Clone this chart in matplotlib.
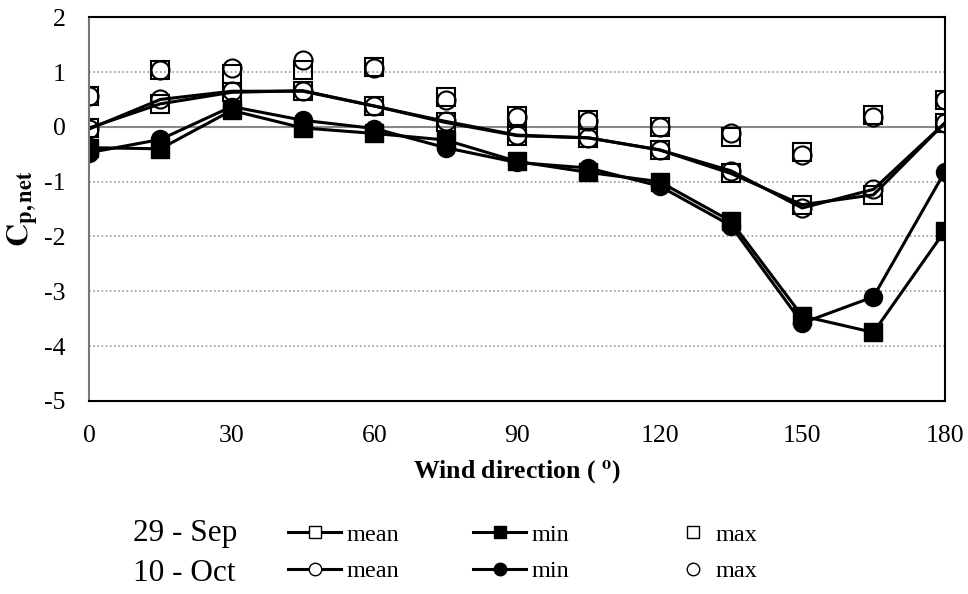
import matplotlib
matplotlib.use("Agg")
import matplotlib.pyplot as plt
from matplotlib.lines import Line2D

plt.rcParams['font.family'] = ['Liberation Serif', 'DejaVu Serif']
plt.rcParams['mathtext.fontset'] = 'stix'
plt.rcParams['axes.unicode_minus'] = False

# Wind direction (degrees)
direction = [0, 15, 30, 45, 60, 75, 90, 105, 120, 135, 150, 165, 180]

# 29 - Sep
sep_mean = [-0.02, 0.42, 0.63, 0.66, 0.38, 0.08, -0.16, -0.2, -0.42, -0.85, -1.42, -1.24, 0.07]
sep_min = [-0.38, -0.4, 0.3, -0.02, -0.12, -0.24, -0.63, -0.83, -1.0, -1.72, -3.45, -3.75, -1.9]
sep_max = [0.57, 1.03, 0.96, 1.04, 1.09, 0.55, 0.19, 0.12, 0.0, -0.18, -0.45, 0.22, 0.49]

# 10 - Oct
oct_mean = [-0.04, 0.5, 0.65, 0.65, 0.38, 0.1, -0.15, -0.2, -0.42, -0.8, -1.48, -1.14, 0.07]
oct_min = [-0.47, -0.23, 0.37, 0.12, -0.03, -0.38, -0.65, -0.75, -1.08, -1.8, -3.58, -3.1, -0.82]
oct_max = [0.57, 1.03, 1.07, 1.22, 1.08, 0.49, 0.18, 0.1, 0.0, -0.12, -0.52, 0.18, 0.49]

fig = plt.figure(figsize=(9.68, 5.94), dpi=100)
ax = fig.add_axes([0.092, 0.325, 0.884, 0.646])

ms = 13
lw = 2.2
ax.plot(direction, sep_max, ls='none', marker='s', ms=ms, mfc='none', mec='black', mew=1.5, zorder=3)
ax.plot(direction, oct_max, ls='none', marker='o', ms=ms, mfc='none', mec='black', mew=1.5, zorder=3)
ax.plot(direction, sep_mean, color='black', lw=lw, marker='s', ms=ms, mfc='none', mec='black', mew=1.5, zorder=4)
ax.plot(direction, oct_mean, color='black', lw=lw, marker='o', ms=ms, mfc='none', mec='black', mew=1.5, zorder=4)
ax.plot(direction, sep_min, color='black', lw=lw, marker='s', ms=ms, mfc='black', mec='black', zorder=5)
ax.plot(direction, oct_min, color='black', lw=lw, marker='o', ms=ms, mfc='black', mec='black', zorder=5)

ax.set_xlim(0, 180)
ax.set_ylim(-5, 2)
ax.set_xticks(range(0, 181, 30))
ax.set_yticks(range(-5, 3))
ax.tick_params(length=0, labelsize=18.5)
ax.tick_params(axis='x', pad=17)
ax.tick_params(axis='y', pad=17)

# dotted grid, solid zero line
for yv in [1, -1, -2, -3, -4]:
    ax.axhline(yv, color='#999999', lw=1.2, ls=(0, (1, 1.5)), zorder=1)
ax.axhline(0, color='#888888', lw=1.5, zorder=1)

ax.spines['left'].set_color('#777777')
ax.spines['left'].set_linewidth(1.5)
for side in ['top', 'bottom', 'right']:
    ax.spines[side].set_color('black')
    ax.spines[side].set_linewidth(1.5)
for sp in ax.spines.values():
    sp.set_zorder(6)

ax.set_xlabel(r'Wind direction ( $^{\mathbf{o}}$)', fontsize=18.5, fontweight='bold', labelpad=9)
ax.set_ylabel(r'$\mathbf{C_{p,net}}$', fontsize=23, labelpad=2)

# legend below the axes: one block per statistic
lms = 9
lfs = 17.5
blocks = [
    (0.2975, 2.2, [Line2D([], [], color='black', lw=lw, marker='s', ms=lms, mfc='white', mec='black'),
                   Line2D([], [], color='black', lw=lw, marker='o', ms=lms, mfc='white', mec='black')], 'mean'),
    (0.4885, 2.2, [Line2D([], [], color='black', lw=lw, marker='s', ms=lms, mfc='black', mec='black'),
                   Line2D([], [], color='black', lw=lw, marker='o', ms=lms, mfc='black', mec='black')], 'min'),
    (0.697, 1.5, [Line2D([], [], ls='none', marker='s', ms=lms, mfc='none', mec='black'),
                  Line2D([], [], ls='none', marker='o', ms=lms, mfc='none', mec='black')], 'max'),
]
for x0, hl, hs, lab in blocks:
    fig.legend(hs, [lab, lab], loc='center left', bbox_to_anchor=(x0, 0.069),
               frameon=False, fontsize=lfs, handlelength=hl, handletextpad=0.2,
               labelspacing=0.6, borderpad=0, borderaxespad=0)
fig.text(0.137, 0.102, '29 - Sep', fontsize=22.5, va='center')
fig.text(0.137, 0.035, '10 - Oct', fontsize=22.5, va='center')

fig.savefig('out.png', dpi=100)
